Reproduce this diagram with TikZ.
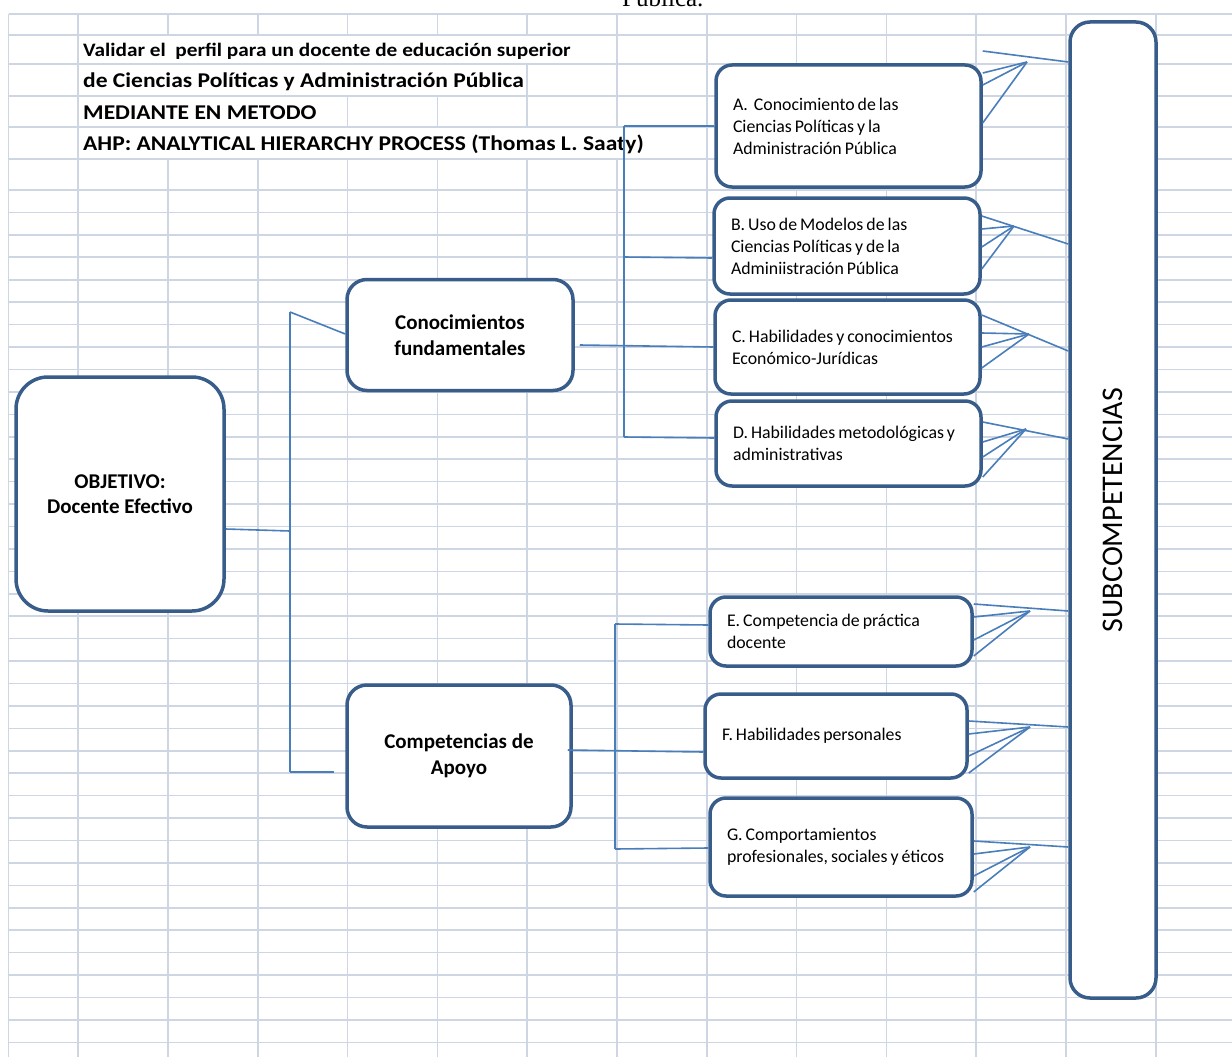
\documentclass[tikz,border=0pt]{standalone}
\usepackage{fontspec}
\setmainfont{Carlito}
\newfontfamily\titlefont{Carlito}[FakeStretch=1.12]
\newfontfamily\capfont{Liberation Serif}
\usepackage{tikz}
\usetikzlibrary{calc}
\definecolor{boxblue}{RGB}{56,93,138}
\definecolor{linkblue}{RGB}{74,126,187}
\definecolor{gridgray}{RGB}{206,214,228}
\newcommand\tightspace{\spaceskip=0.17em\relax}

\begin{document}
\begin{tikzpicture}[x=1pt,y=-1pt,
  box/.style={draw=boxblue,line width=3.5pt,fill=white,inner sep=0pt},
  goal/.style={box,rounded corners=20pt,align=center,font=\bfseries\fontsize{21}{25.5}\selectfont},
  crit/.style={box,rounded corners=16pt,align=left,inner xsep=17pt,font=\fontsize{17.8}{22}\selectfont,execute at begin node=\tightspace},
  title/.style={anchor=base west,inner sep=0pt,font=\titlefont\bfseries\fontsize{21}{21}\selectfont},
  link/.style={draw=linkblue,line width=1.6pt},
  gridline/.style={draw=gridgray,line width=1.6pt}]
\useasboundingbox (0,0) rectangle (1232,1057);
\clip (0,0) rectangle (1232,1057);

% spreadsheet grid
\foreach \gx in {8.5,78} \draw[gridline] (\gx,14) -- (\gx,1057);
\foreach \k in {0,...,11} \draw[gridline] (168+89.8*\k,14) -- (168+89.8*\k,1057);
\foreach \gy in {14,35,64,96,127,159} \draw[gridline] (8.5,\gy) -- (1232,\gy);
\foreach \k in {0,...,38} \draw[gridline] (8.5,190+22.43*\k) -- (1232,190+22.43*\k);
\fill[white] (78.8,35.8) rectangle (616.2,63.2);
\fill[white] (78.8,64.8) rectangle (526.2,95.2);
\fill[white] (78.8,96.8) rectangle (347.2,126.2);
\fill[white] (78.8,127.8) rectangle (706.2,158.2);

\node[anchor=base west,inner sep=0pt,font=\capfont\fontsize{25}{25}\selectfont] (cap) at (622,7) {Pública.};
\node[title,font=\titlefont\bfseries\fontsize{19}{19}\selectfont] (t1) at (83,57) {Validar el\ \ perfil para un docente de educación superior};
\node[title] (t2) at (83,88) {de Ciencias Políticas y Administración Pública};
\node[title] (t3) at (83,119) {MEDIANTE EN METODO};
\node[title] (t4) at (83,150) {AHP: ANALYTICAL HIERARCHY PROCESS (Thomas L. Saaty)};

% hierarchy
\node[goal,rounded corners=32pt,minimum width=208pt,minimum height=234pt] (obj) at (120,494) {OBJETIVO:\\Docente Efectivo};
\node[goal,minimum width=226pt,minimum height=111pt] (cf) at (460,335) {Conocimientos\\fundamentales};
\node[goal,minimum width=224pt,minimum height=142pt] (ca) at (459,756) {Competencias de\\Apoyo};

\node[crit,text width=231pt,minimum height=122pt] (a) at (848.5,126) {A.\ \ Conocimiento de las\\Ciencias Políticas y la\\Administración Pública};
\node[crit,text width=232pt,minimum height=96pt] (b) at (847,246) {B. Uso de Modelos de las\\Ciencias Políticas y de la\\Adminiistración Pública};
\node[crit,text width=231pt,minimum height=94pt] (c) at (847.5,347) {C. Habilidades y conocimientos\\Económico-Jurídicas};
\node[crit,text width=231pt,minimum height=85pt] (d) at (848.5,443.5) {D. Habilidades metodológicas y\\administrativas};
\node[crit,text width=228pt,minimum height=69pt] (e) at (841,631.5) {E. Competencia de práctica\\docente};
\node[crit,text width=228pt,minimum height=84pt] (f) at (836,736) {F. Habilidades personales};
\node[crit,text width=228pt,minimum height=98pt] (g) at (841,847) {G. Comportamientos\\profesionales, sociales y éticos};

\node[box,rounded corners=20pt,minimum width=86pt,minimum height=976pt] (subc) at (1113,510) {};
\node[rotate=90,font=\fontsize{30}{30}\selectfont] (subtext) at (subc.center) {SUBCOMPETENCIAS};

% connectors
\coordinate (j1) at (290,312);
\coordinate (j2) at (290,772);
\coordinate (k1) at (624,126);
\coordinate (k2) at (624,437);
\coordinate (m1) at (615,624);
\coordinate (m2) at (615,849);
\draw[link] (obj.east |- 0,529) -- (290,531);
\draw[link] (j1) -- (j2);
\draw[link] (j1) -- (cf.west |- 0,334);
\draw[link] (j2) -- ([xshift=-11pt]ca.west |- j2);
\draw[link] ([xshift=5pt]cf.east |- 0,345) -- (c.west |- 0,347);
\draw[link] (k1) -- (k2);
\draw[link] (k1) -- (a.west |- k1);
\draw[link] (624,257) -- (b.west |- 0,258);
\draw[link] (k2) -- (d.west |- 0,438);
\draw[link] ([xshift=-5pt]ca.east |- 0,750) -- (f.west |- 0,752);
\draw[link] (m1) -- (m2);
\draw[link] (m1) -- (e.west |- 0,625);
\draw[link] (m2) -- (g.west |- 0,848);

\foreach \n/\m/\s/\ax/\ay/\p/\q/\r in {
  a/51/62/1027/62/73/85/123,
  b/216/244/1014/226/229/247/269,
  c/315/351/1029/334/333/347/368,
  d/422/439/1026/429/442/457/477,
  e/604/611/1030/611/617/640/656,
  f/721/727/1030/727/734/756/773,
  g/841/847/1030/847/854/876/892}{
  \coordinate (\n-apex) at (\ax,\ay);
  \draw[link] (\n.east |- 0,\m) -- (subc.west |- 0,\s);
  \foreach \y in {\p,\q,\r} \draw[link] (\n.east |- 0,\y) -- (\n-apex);
}
\end{tikzpicture}
\end{document}
